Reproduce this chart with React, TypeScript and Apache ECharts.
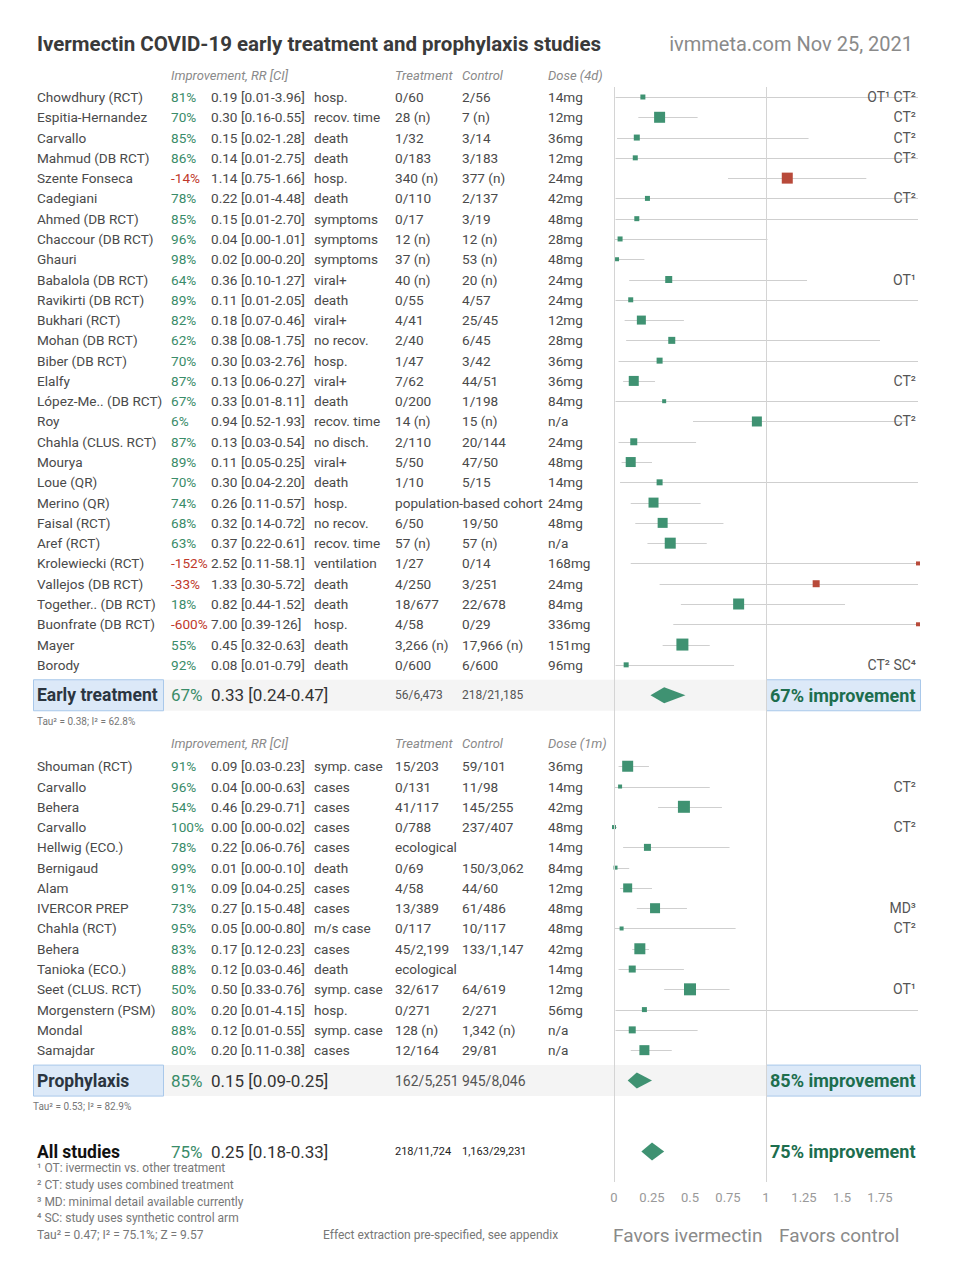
import React, { useEffect, useRef } from "react";
import * as echarts from "echarts";

// ---------------- data ----------------
const earlyNames = ["Chowdhury (RCT)", "Espitia-Hernandez", "Carvallo", "Mahmud (DB RCT)", "Szente Fonseca", "Cadegiani", "Ahmed (DB RCT)", "Chaccour (DB RCT)", "Ghauri", "Babalola (DB RCT)", "Ravikirti (DB RCT)", "Bukhari (RCT)", "Mohan (DB RCT)", "Biber (DB RCT)", "Elalfy", "López-Me.. (DB RCT)", "Roy", "Chahla (CLUS. RCT)", "Mourya", "Loue (QR)", "Merino (QR)", "Faisal (RCT)", "Aref (RCT)", "Krolewiecki (RCT)", "Vallejos (DB RCT)", "Together.. (DB RCT)", "Buonfrate (DB RCT)", "Mayer", "Borody"];
const earlyImpr = [81, 70, 85, 86, -14, 78, 85, 96, 98, 64, 89, 82, 62, 70, 87, 67, 6, 87, 89, 70, 74, 68, 63, -152, -33, 18, -600, 55, 92];
const earlyRR = [0.19, 0.30, 0.15, 0.14, 1.14, 0.22, 0.15, 0.04, 0.02, 0.36, 0.11, 0.18, 0.38, 0.30, 0.13, 0.33, 0.94, 0.13, 0.11, 0.30, 0.26, 0.32, 0.37, 2.52, 1.33, 0.82, 7.00, 0.45, 0.08];
const earlyLo = [0.01, 0.16, 0.02, 0.01, 0.75, 0.01, 0.01, 0.00, 0.00, 0.10, 0.01, 0.07, 0.08, 0.03, 0.06, 0.01, 0.52, 0.03, 0.05, 0.04, 0.11, 0.14, 0.22, 0.11, 0.30, 0.44, 0.39, 0.32, 0.01];
const earlyHi = [3.96, 0.55, 1.28, 2.75, 1.66, 4.48, 2.70, 1.01, 0.20, 1.27, 2.05, 0.46, 1.75, 2.76, 0.27, 8.11, 1.93, 0.54, 0.25, 2.20, 0.57, 0.72, 0.61, 58.1, 5.72, 1.52, 126, 0.63, 0.79];
const earlyOutcome = ["hosp.", "recov. time", "death", "death", "hosp.", "death", "symptoms", "symptoms", "symptoms", "viral+", "death", "viral+", "no recov.", "hosp.", "viral+", "death", "recov. time", "no disch.", "viral+", "death", "hosp.", "no recov.", "recov. time", "ventilation", "death", "death", "hosp.", "death", "death"];
const earlyTreat = ["0/60", "28 (n)", "1/32", "0/183", "340 (n)", "0/110", "0/17", "12 (n)", "37 (n)", "40 (n)", "0/55", "4/41", "2/40", "1/47", "7/62", "0/200", "14 (n)", "2/110", "5/50", "1/10", "population-based cohort", "6/50", "57 (n)", "1/27", "4/250", "18/677", "4/58", "3,266 (n)", "0/600"];
const earlyControl = ["2/56", "7 (n)", "3/14", "3/183", "377 (n)", "2/137", "3/19", "12 (n)", "53 (n)", "20 (n)", "4/57", "25/45", "6/45", "3/42", "44/51", "1/198", "15 (n)", "20/144", "47/50", "5/15", "", "19/50", "57 (n)", "0/14", "3/251", "22/678", "0/29", "17,966 (n)", "6/600"];
const earlyDose = ["14mg", "12mg", "36mg", "12mg", "24mg", "42mg", "48mg", "28mg", "48mg", "24mg", "24mg", "12mg", "28mg", "36mg", "36mg", "84mg", "n/a", "24mg", "48mg", "14mg", "24mg", "48mg", "n/a", "168mg", "24mg", "84mg", "336mg", "151mg", "96mg"];
const earlyNotes = ["OT¹ CT²", "CT²", "CT²", "CT²", "", "CT²", "", "", "", "OT¹", "", "", "", "", "CT²", "", "CT²", "", "", "", "", "", "", "", "", "", "", "", "CT² SC⁴"];
const earlyWeight = [5, 11, 6, 5, 11, 5, 5, 5, 4, 7, 5, 9, 7, 6, 10, 4, 10, 7, 10, 6, 10, 10, 11, 4, 7, 11, 4, 12, 5];

const prophNames = ["Shouman (RCT)", "Carvallo", "Behera", "Carvallo", "Hellwig (ECO.)", "Bernigaud", "Alam", "IVERCOR PREP", "Chahla (RCT)", "Behera", "Tanioka (ECO.)", "Seet (CLUS. RCT)", "Morgenstern (PSM)", "Mondal", "Samajdar"];
const prophImpr = [91, 96, 54, 100, 78, 99, 91, 73, 95, 83, 88, 50, 80, 88, 80];
const prophRR = [0.09, 0.04, 0.46, 0.00, 0.22, 0.01, 0.09, 0.27, 0.05, 0.17, 0.12, 0.50, 0.20, 0.12, 0.20];
const prophLo = [0.03, 0.00, 0.29, 0.00, 0.06, 0.00, 0.04, 0.15, 0.00, 0.12, 0.03, 0.33, 0.01, 0.01, 0.11];
const prophHi = [0.23, 0.63, 0.71, 0.02, 0.76, 0.10, 0.25, 0.48, 0.80, 0.23, 0.46, 0.76, 4.15, 0.55, 0.38];
const prophOutcome = ["symp. case", "cases", "cases", "cases", "cases", "death", "cases", "cases", "m/s case", "cases", "death", "symp. case", "hosp.", "symp. case", "cases"];
const prophTreat = ["15/203", "0/131", "41/117", "0/788", "ecological", "0/69", "4/58", "13/389", "0/117", "45/2,199", "ecological", "32/617", "0/271", "128 (n)", "12/164"];
const prophControl = ["59/101", "11/98", "145/255", "237/407", "", "150/3,062", "44/60", "61/486", "10/117", "133/1,147", "", "64/619", "2/271", "1,342 (n)", "29/81"];
const prophDose = ["36mg", "14mg", "42mg", "48mg", "14mg", "84mg", "12mg", "48mg", "48mg", "42mg", "14mg", "12mg", "56mg", "n/a", "n/a"];
const prophNotes = ["", "CT²", "", "CT²", "", "", "", "MD³", "CT²", "", "", "OT¹", "", "", ""];
const prophWeight = [11, 4, 12, 4, 7, 4, 9, 10, 4, 11, 7, 12, 5, 7, 10];

const summaryNames = ["Early treatment", "Prophylaxis", "All studies"];
const summaryImpr = [67, 85, 75];
const summaryRR = [0.33, 0.15, 0.25];
const summaryLo = [0.24, 0.09, 0.18];
const summaryHi = [0.47, 0.25, 0.33];
const summaryTreat = ["56/6,473", "162/5,251", "218/11,724"];
const summaryControl = ["218/21,185", "945/8,046", "1,163/29,231"];
const summaryHet = ["Tau² = 0.38; I² = 62.8%", "Tau² = 0.53; I² = 82.9%"];

const xTicks = [0, 0.25, 0.5, 0.75, 1, 1.25, 1.5, 1.75];
const footnotes = ["¹ OT: ivermectin vs. other treatment", "² CT: study uses combined treatment", "³ MD: minimal detail available currently", "⁴ SC: study uses synthetic control arm", "Tau² = 0.47; I² = 75.1%; Z = 9.57"];

// ---------------- layout ----------------
const W = 957, H = 1286;
const ROW_PX = 20.28;
const ROW0_Y = 97;
const PLOT_LEFT = 614, PLOT_RIGHT = 918, PLOT_TOP = 87, PLOT_BOTTOM = 1182;
const X_MAX = 2;
const EARLY_START = 0;
const EARLY_HEADER = -1.08;
const EARLY_SUM = 29.5;
const EARLY_HET = 30.77;
const PROPH_HEADER = 31.9;
const PROPH_START = 33;
const PROPH_SUM = 48.5;
const PROPH_HET = 49.8;
const ALL_ROW = 52;
const COL = { name: 37, impr: 171, rr: 211, outcome: 314, treat: 395, control: 462, dose: 548, note: 916, improve: 770 };
const FONT = "Roboto";
const TXT = "#4a4a4a";
const GREEN_T = "#3a8c69";
const RED_T = "#c0392b";
const GREEN = "#3f9272";
const RED = "#b84a3a";
const rowY = (r: number) => ROW0_Y + r * ROW_PX;

const fmt = (v: number) => (v < 10 ? v.toFixed(2) : v < 100 ? v.toFixed(1) : v.toFixed(0));
const ci = (rr: number, lo: number, hi: number) => `${fmt(rr)} [${fmt(lo)}-${fmt(hi)}]`;

type T = { x: number; row: number; text: string; color?: string; size?: number; weight?: any; italic?: boolean; align?: string };

function buildTexts(): T[] {
  const t: T[] = [];
  const headers = (row: number, dose: string) => {
    const s = { color: "#8a8a8a", size: 13, italic: true };
    t.push({ x: COL.impr, row, text: "Improvement, RR [CI]", ...s });
    t.push({ x: COL.treat, row, text: "Treatment", ...s });
    t.push({ x: COL.control, row, text: "Control", ...s });
    t.push({ x: COL.dose, row, text: dose, ...s });
  };
  const rows = (start: number, names: string[], impr: number[], rr: number[], lo: number[], hi: number[], out: string[], tr: string[], ct: string[], dose: string[], notes: string[]) => {
    names.forEach((n, i) => {
      const row = start + i;
      t.push({ x: COL.name, row, text: n });
      t.push({ x: COL.impr, row, text: `${impr[i]}%`, color: impr[i] < 0 ? RED_T : GREEN_T });
      t.push({ x: COL.rr, row, text: ci(rr[i], lo[i], hi[i]) });
      t.push({ x: COL.outcome, row, text: out[i] });
      t.push({ x: COL.treat, row, text: tr[i] });
      if (ct[i]) t.push({ x: COL.control, row, text: ct[i] });
      t.push({ x: COL.dose, row, text: dose[i] });
      if (notes[i]) t.push({ x: COL.note, row, text: notes[i], align: "right", size: 14, color: "#555" });
    });
  };
  headers(EARLY_HEADER, "Dose (4d)");
  rows(EARLY_START, earlyNames, earlyImpr, earlyRR, earlyLo, earlyHi, earlyOutcome, earlyTreat, earlyControl, earlyDose, earlyNotes);
  headers(PROPH_HEADER, "Dose (1m)");
  rows(PROPH_START, prophNames, prophImpr, prophRR, prophLo, prophHi, prophOutcome, prophTreat, prophControl, prophDose, prophNotes);
  const sumRows = [EARLY_SUM, PROPH_SUM, ALL_ROW];
  const countSize = [12, 14, 11];
  summaryNames.forEach((n, i) => {
    const row = sumRows[i];
    t.push({ x: COL.name, row, text: n, weight: "bold", size: 17.5, color: i === 2 ? "#111" : "#2b3540" });
    t.push({ x: COL.impr, row, text: `${summaryImpr[i]}%`, size: 17, color: GREEN_T });
    t.push({ x: COL.rr, row, text: ci(summaryRR[i], summaryLo[i], summaryHi[i]), size: 17, color: "#333" });
    t.push({ x: COL.treat, row, text: summaryTreat[i], size: countSize[i], color: i === 2 ? "#222" : "#555" });
    t.push({ x: COL.control, row, text: summaryControl[i], size: countSize[i], color: i === 2 ? "#222" : "#555" });
    t.push({ x: COL.improve, row, text: `${summaryImpr[i]}% improvement`, size: 18, weight: "bold", color: "#1d6e4e" });
  });
  t.push({ x: COL.name, row: EARLY_HET, text: summaryHet[0], size: 10, color: "#777" });
  t.push({ x: COL.name - 4, row: PROPH_HET, text: summaryHet[1], size: 10, color: "#777" });
  return t;
}

export default function App() {
  const ref = useRef<HTMLDivElement>(null);
  useEffect(() => {
    if (!ref.current) return;
    const chart = echarts.init(ref.current, undefined, { renderer: "svg" });
    const texts = buildTexts();

    const forest: number[][] = [];
    earlyRR.forEach((v, i) => forest.push([v, earlyLo[i], earlyHi[i], EARLY_START + i, earlyWeight[i], earlyImpr[i] < 0 ? 1 : 0]));
    prophRR.forEach((v, i) => forest.push([v, prophLo[i], prophHi[i], PROPH_START + i, prophWeight[i], prophImpr[i] < 0 ? 1 : 0]));
    const diamonds = summaryRR.map((v, i) => [v, summaryLo[i], summaryHi[i], [EARLY_SUM, PROPH_SUM, ALL_ROW][i], i === 2 ? 9 : 8]);

    const boxY = (r: number) => rowY(r) - 15.5;
    const graphic: any[] = [];
    [EARLY_SUM, PROPH_SUM].forEach((r) => {
      graphic.push({ type: "rect", z: 0, shape: { x: 163, y: boxY(r), width: PLOT_LEFT + (PLOT_RIGHT - PLOT_LEFT) / X_MAX - 163, height: 31 }, style: { fill: "#f4f4f4" } });
      graphic.push({ type: "rect", z: 1, shape: { x: 33.5, y: boxY(r), width: 130, height: 31 }, style: { fill: "#dce9f8", stroke: "#a9c8ea", lineWidth: 1 } });
      graphic.push({ type: "rect", z: 1, shape: { x: 766.5, y: boxY(r), width: 154, height: 31 }, style: { fill: "#dce9f8", stroke: "#a9c8ea", lineWidth: 1 } });
    });
    graphic.push({ type: "text", z: 5, x: 37, y: 44, style: { text: "Ivermectin COVID-19 early treatment and prophylaxis studies", fill: "#3a3a3a", fontSize: 20.5, fontWeight: "bold", fontFamily: FONT, verticalAlign: "middle" } });
    graphic.push({ type: "text", z: 5, x: 913, y: 44, style: { text: "ivmmeta.com Nov 25, 2021", fill: "#8a8a8a", fontSize: 20, fontFamily: FONT, align: "right", verticalAlign: "middle" } });
    footnotes.forEach((f, i) => {
      graphic.push({ type: "text", z: 5, x: 37, y: 1168 + i * 16.75, style: { text: f, fill: "#777", fontSize: 12, fontFamily: FONT, verticalAlign: "middle" } });
    });
    graphic.push({ type: "text", z: 5, x: 323, y: 1235, style: { text: "Effect extraction pre-specified, see appendix", fill: "#777", fontSize: 12, fontFamily: FONT, verticalAlign: "middle" } });
    graphic.push({ type: "text", z: 5, x: 613, y: 1235, style: { text: "Favors ivermectin", fill: "#8a8a8a", fontSize: 19, fontFamily: FONT, verticalAlign: "middle" } });
    graphic.push({ type: "text", z: 5, x: 779, y: 1235, style: { text: "Favors control", fill: "#8a8a8a", fontSize: 19, fontFamily: FONT, verticalAlign: "middle" } });

    const option: any = {
      animation: false,
      backgroundColor: "#ffffff",
      graphic: { elements: graphic },
      grid: [
        { left: PLOT_LEFT, top: PLOT_TOP, width: PLOT_RIGHT - PLOT_LEFT, height: PLOT_BOTTOM - PLOT_TOP, containLabel: false },
        { left: 0, top: 0, width: W, height: H, containLabel: false },
      ],
      xAxis: [
        {
          type: "value", gridIndex: 0, min: 0, max: X_MAX, interval: 0.25,
          axisLine: { show: false }, axisTick: { show: false }, splitLine: { show: false },
          axisLabel: { color: "#999", fontSize: 13, fontFamily: FONT, margin: 9, formatter: (v: number) => (xTicks.includes(v) ? String(v) : "") },
        },
        { type: "value", gridIndex: 1, min: 0, max: W, show: false },
      ],
      yAxis: [
        { type: "value", gridIndex: 0, inverse: true, min: (PLOT_TOP - ROW0_Y) / ROW_PX, max: (PLOT_BOTTOM - ROW0_Y) / ROW_PX, show: false },
        { type: "value", gridIndex: 1, inverse: true, min: -ROW0_Y / ROW_PX, max: (H - ROW0_Y) / ROW_PX, show: false },
      ],
      series: [
        {
          type: "line", xAxisIndex: 0, yAxisIndex: 0, data: [], z: 1,
          markLine: {
            silent: true, symbol: "none", label: { show: false },
            lineStyle: { color: "#d4d4d4", width: 1, type: "solid" },
            data: [{ xAxis: 0 }, { xAxis: 1 }],
          },
        },
        {
          type: "custom", xAxisIndex: 0, yAxisIndex: 0, z: 3, clip: false,
          data: forest,
          renderItem: (params: any, api: any) => {
            const rr = Math.min(api.value(0), X_MAX);
            const lo = api.value(1);
            const hi = Math.min(api.value(2), X_MAX);
            const row = api.value(3);
            const s = api.value(4);
            const red = api.value(5) === 1;
            const a = api.coord([lo, row]);
            const b = api.coord([hi, row]);
            const c = api.coord([rr, row]);
            const y = Math.round(c[1]) + 0.5;
            return {
              type: "group",
              children: [
                { type: "line", shape: { x1: a[0], y1: y, x2: b[0], y2: y }, style: { stroke: "#cfcfcf", lineWidth: 1 } },
                { type: "rect", shape: { x: c[0] - s / 2, y: c[1] - s / 2, width: s, height: s }, style: { fill: red ? RED : GREEN } },
              ],
            };
          },
        },
        {
          type: "custom", xAxisIndex: 0, yAxisIndex: 0, z: 3, clip: false,
          data: diamonds,
          renderItem: (params: any, api: any) => {
            const row = api.value(3);
            const h = api.value(4);
            const c = api.coord([api.value(0), row]);
            const l = api.coord([api.value(1), row]);
            const r = api.coord([api.value(2), row]);
            return {
              type: "polygon",
              shape: { points: [[l[0], c[1]], [c[0], c[1] - h], [r[0], c[1]], [c[0], c[1] + h]] },
              style: { fill: GREEN },
            };
          },
        },
        {
          type: "custom", xAxisIndex: 1, yAxisIndex: 1, z: 5, clip: false,
          data: texts.map((t) => [t.x, t.row]),
          renderItem: (params: any, api: any) => {
            const t = texts[params.dataIndex];
            const p = api.coord([api.value(0), api.value(1)]);
            return {
              type: "text", x: p[0], y: p[1],
              style: {
                text: t.text, fill: t.color || TXT, fontSize: t.size || 13.6, fontFamily: FONT,
                fontWeight: t.weight || "normal", fontStyle: t.italic ? "italic" : "normal",
                align: t.align || "left", verticalAlign: "middle",
              },
            };
          },
        },
      ],
    };
    chart.setOption(option);
    return () => chart.dispose();
  }, []);
  return <div ref={ref} style={{ position: "absolute", left: 0, top: 0, width: W, height: H, background: "#fff" }} />;
}
